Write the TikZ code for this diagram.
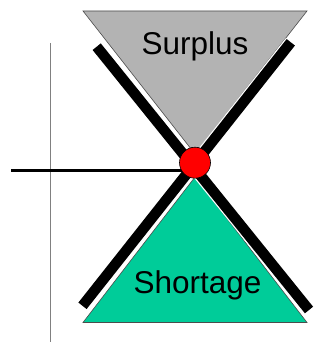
\documentclass[tikz,border=0pt]{standalone}
\usepackage{fontspec}
\setmainfont{Liberation Sans}
\definecolor{surplusgray}{RGB}{179,179,179}
\definecolor{shortgreen}{RGB}{0,204,153}
\definecolor{axisgray}{RGB}{128,128,128}
\begin{document}
\begin{tikzpicture}[x=1pt,y=-1pt,
  tri/.style={draw=black!70, line width=0.6pt},
  curve/.style={line width=10.5pt, line cap=butt},
  curveedge/.style={white, line width=13pt, line cap=butt},
  label/.style={anchor=base, inner sep=0pt, font=\fontsize{31.5}{36}\selectfont},
  eqpoint/.style={circle, fill=red, draw=black, line width=0.6pt, minimum size=31pt, inner sep=0pt}]
\useasboundingbox (0,0) rectangle (320,342);
% coordinates
\coordinate (tA) at (83,11);
\coordinate (tB) at (307,11);
\coordinate (tC) at (195,154);
\coordinate (bA) at (83,322.5);
\coordinate (bB) at (307,322.5);
\coordinate (bC) at (195,177);
\coordinate (d1) at (96.7,46.7);
\coordinate (d2) at (309,310);
\coordinate (s1) at (290.8,42.3);
\coordinate (s2) at (82.5,305.8);
\coordinate (h1) at (11,170.5);
\coordinate (h2) at (195,170.5);
\coordinate (v1) at (50.7,43);
\coordinate (v2) at (50.7,342);
% axis
\draw[axisgray, line width=1.2pt] (v1) -- (v2);
% triangles
\filldraw[tri, fill=surplusgray] (tA) -- (tB) -- (tC) -- cycle;
\filldraw[tri, fill=shortgreen] (bA) -- (bB) -- (bC) -- cycle;
% curves
\draw[curveedge] (d1) -- (d2);
\draw[curveedge] (s1) -- (s2);
\draw[curve] (d1) -- (d2);
\draw[curve] (s1) -- (s2);
% horizontal line
\draw[line width=3.5pt] (h1) -- (h2);
% equilibrium
\node[eqpoint] (eq) at (195,162.7) {};
% labels
\node[label] (surplus) at (195,54.2) {Surplus};
\node[label] (shortage) at (197.5,293.6) {Shortage};
\end{tikzpicture}
\end{document}
